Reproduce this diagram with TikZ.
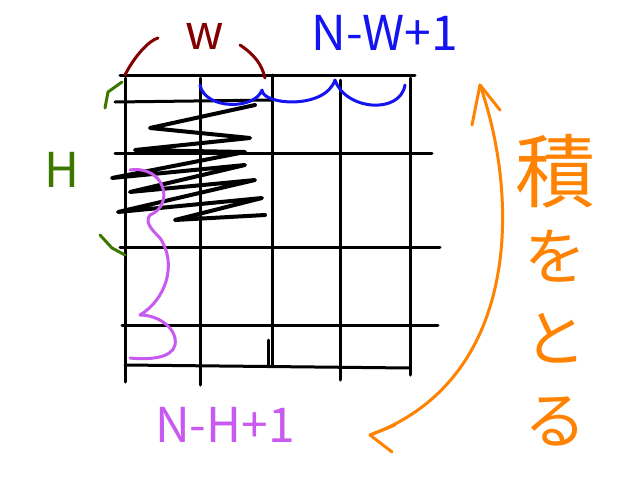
\documentclass[tikz,border=0pt]{standalone}
\usepackage{fontspec}
\newfontfamily\cjk{Noto Sans CJK JP}
\setmainfont{Noto Sans CJK JP}
\begin{document}
\begin{tikzpicture}[x=1pt,y=-1pt,line cap=round,line join=round,
  pen/.style={line width=3pt},
  lbl/.style={font=\fontsize{48}{50}\selectfont, inner sep=0pt}]
\useasboundingbox (0,0) rectangle (640,480);
\fill[white] (0,0) rectangle (640,480);
\definecolor{dred}{RGB}{130,0,0}
\definecolor{bl}{RGB}{20,20,240}
\definecolor{gr}{RGB}{60,120,0}
\definecolor{pu}{RGB}{200,90,240}
\definecolor{orng}{RGB}{255,130,0}
% grid
\foreach \x/\a/\b in {125/78/382,200/78/385,272/75/365,340/80/380,410/78/375}
  \draw[pen] (\x,\a) -- (\x,\b);
\draw[pen] (120,75) -- (415,75);
\draw[pen] (115,102) -- (272,100);
\draw[pen] (115,153) -- (432,153);
\draw[pen] (120,247) -- (440,247);
\draw[pen] (122,325) -- (438,325);
\draw[pen] (125,365) -- (410,368);
\draw[pen] (268,340) -- (268,365);
% zigzag
\draw[line width=4pt] (255,105) -- (150,128) -- (250,138) -- (135,150) -- (245,152) -- (112,178) -- (245,165)
  -- (130,192) -- (255,180) -- (118,212) -- (262,198) -- (175,220) -- (265,215);
% w arc
\draw[pen,dred] (125,75) .. controls (135,55) and (150,40) .. (158,38);
\draw[pen,dred] (240,45) .. controls (255,55) and (262,65) .. (265,78);
\node[lbl,dred] (w) at (205,36) {w};
% blue scallops
\draw[pen,bl] (200,85) .. controls (205,110) and (255,110) .. (262,90)
  .. controls (262,105) and (325,110) .. (335,80)
  .. controls (345,110) and (400,115) .. (405,85);
\node[lbl,bl] (nw) at (385,33) {N-W+1};
% green
\draw[pen,gr] (105,108) -- (108,92) -- (122,82);
\draw[pen,gr] (100,235) -- (112,248) -- (125,255);
\node[lbl,gr] (h) at (62,170) {H};
% purple brace
\draw[pen,pu] (130,170) .. controls (165,165) and (175,205) .. (150,215)
  .. controls (145,222) and (150,228) .. (160,238)
  .. controls (178,265) and (165,300) .. (140,315)
  .. controls (160,315) and (178,330) .. (175,345)
  .. controls (172,358) and (150,360) .. (130,358);
\node[lbl,pu] (nh) at (225,425) {N-H+1};
% orange
\node[font=\cjk\fontsize{80}{84}\selectfont,orng,align=center,inner sep=0pt] (t) at (555,290) {積\\[-6pt]\fontsize{62}{66}\selectfont を\\[-2pt]\fontsize{62}{66}\selectfont と\\[-2pt]\fontsize{62}{66}\selectfont る};
\coordinate (a1) at (480,85);
\coordinate (a2) at (370,435);
\draw[pen,orng] (a1) .. controls (520,200) and (520,380) .. (a2);
\draw[pen,orng] (472,125) -- (480,85) -- (500,110);
\draw[pen,orng] (395,425) -- (370,435) -- (392,452);
\end{tikzpicture}
\end{document}
